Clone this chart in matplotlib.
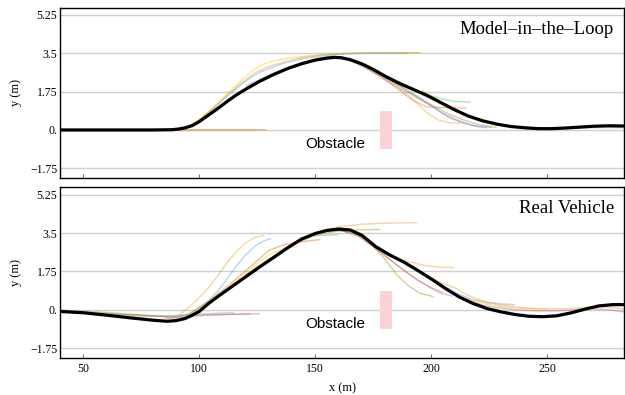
"""
Path tracking: predicted trajectories vs driven path, MiL and real vehicle.
"""
import matplotlib
matplotlib.use("Agg")
import matplotlib.pyplot as plt
from matplotlib.patches import Rectangle

# ---- driven path (black) ----
MIL_X = [40, 80, 88, 91, 94, 97, 100, 104, 108, 112, 116, 120, 126, 132, 138,
         144, 150, 155, 158, 161, 165, 170, 175, 180, 186, 192, 198, 204, 210,
         216, 222, 228, 234, 240, 246, 252, 258, 264, 270, 276, 283]
MIL_Y = [0, 0, 0.01, 0.04, 0.1, 0.2, 0.38, 0.68, 0.98, 1.3, 1.6, 1.86, 2.22,
         2.53, 2.8, 3.02, 3.19, 3.28, 3.31, 3.3, 3.21, 3.02, 2.76, 2.46, 2.14,
         1.86, 1.58, 1.25, 0.92, 0.63, 0.42, 0.27, 0.16, 0.1, 0.06, 0.06, 0.09,
         0.13, 0.17, 0.19, 0.18]

REAL_X = [40, 50, 60, 70, 80, 86, 90, 94, 97, 100, 104, 108, 114, 120, 126,
          132, 138, 144, 150, 155, 160, 165, 170, 176, 182, 188, 194, 200, 206,
          212, 218, 224, 230, 236, 242, 248, 254, 260, 266, 272, 278, 283]
REAL_Y = [-0.08, -0.14, -0.25, -0.37, -0.48, -0.53, -0.5, -0.4, -0.25, -0.08,
          0.28, 0.6, 1.05, 1.5, 1.95, 2.38, 2.82, 3.22, 3.48, 3.62, 3.68, 3.64,
          3.4, 2.88, 2.5, 2.18, 1.8, 1.4, 0.97, 0.58, 0.28, 0.05, -0.1, -0.22,
          -0.3, -0.32, -0.28, -0.15, 0.02, 0.17, 0.23, 0.23]

# ---- predicted trajectories (pale lines): (x, y) ----
MIL_PRED = [
    ([92, 96, 100, 104, 108, 112, 116, 120, 124, 128, 132, 138, 145, 155, 165, 180, 196],
     [0, 0.2, 0.5, 0.85, 1.25, 1.65, 2.05, 2.45, 2.78, 3.02, 3.15, 3.27, 3.36, 3.45, 3.5, 3.52, 3.53]),
    ([96, 100, 104, 108, 112, 116, 120, 124, 128, 136, 144, 152, 160, 170, 185, 195],
     [0.2, 0.45, 0.8, 1.18, 1.58, 1.95, 2.3, 2.6, 2.82, 3.1, 3.3, 3.42, 3.48, 3.52, 3.53, 3.53]),
    ([95, 99, 103, 107, 111, 115, 119, 123, 127, 135, 143, 151, 160, 170, 180, 190],
     [0.1, 0.35, 0.7, 1.05, 1.45, 1.8, 2.15, 2.45, 2.68, 3.0, 3.22, 3.36, 3.45, 3.5, 3.5, 3.5]),
    ([120, 130, 140, 150, 158, 165, 172, 180, 188, 195, 200, 205, 210, 215, 220, 224],
     [2.0, 2.5, 2.92, 3.25, 3.38, 3.2, 2.8, 2.3, 1.8, 1.4, 1.1, 0.75, 0.5, 0.3, 0.15, 0.1]),
    ([160, 165, 170, 175, 180, 186, 192, 196, 200, 205, 210, 217],
     [3.3, 3.2, 3.0, 2.72, 2.4, 2.08, 1.83, 1.7, 1.55, 1.4, 1.3, 1.27]),
    ([160, 165, 172, 178, 186, 192, 198, 205, 215],
     [3.3, 3.15, 2.85, 2.45, 1.83, 1.35, 1.05, 1.02, 1.0]),
    ([160, 165, 170, 178, 185, 192, 198, 203, 208, 213],
     [3.3, 3.2, 3.0, 2.5, 2.0, 1.4, 0.8, 0.45, 0.33, 0.3]),
    ([160, 165, 170, 180, 188, 195, 202, 208, 214, 220, 226],
     [3.3, 3.2, 3.0, 2.4, 1.9, 1.45, 0.95, 0.55, 0.3, 0.17, 0.12]),
    ([160, 168, 175, 185, 192, 200, 207, 214, 220, 228],
     [3.3, 3.08, 2.7, 2.1, 1.65, 1.15, 0.75, 0.45, 0.25, 0.12]),
    ([40, 80, 100, 129], [0, 0, 0.01, 0.01]),
    ([40, 80, 100, 125], [0, 0, 0, 0]),
    ([196, 200, 205, 210, 215, 220, 225, 230, 240, 250, 260, 270, 283],
     [1.8, 1.55, 1.25, 0.95, 0.68, 0.45, 0.32, 0.22, 0.1, 0.07, 0.08, 0.1, 0.1]),
]
MIL_COLORS = ["#FFBF00", "#E19C24", "#5D9EC7", "#8778B3", "#47B66D", "#EB6235",
              "#F89F13", "#6685D9", "#929600", "#C56E1A", "#E19C24", "#E19C24"]

REAL_PRED = [
    ([40, 60, 80, 88, 92, 96, 100, 104, 108, 112, 116, 120, 124, 128],
     [-0.02, -0.12, -0.28, -0.32, -0.2, 0.15, 0.55, 1.0, 1.55, 2.15, 2.65, 3.05, 3.3, 3.4]),
    ([40, 60, 80, 90, 96, 100, 104, 108, 112, 116, 120, 124, 128, 131],
     [-0.05, -0.15, -0.3, -0.35, -0.15, 0.1, 0.4, 0.85, 1.4, 2.0, 2.5, 2.9, 3.15, 3.25]),
    ([40, 60, 80, 90, 95, 100, 108, 115],
     [-0.1, -0.18, -0.27, -0.28, -0.23, -0.2, -0.16, -0.14]),
    ([40, 60, 80, 90, 95, 105, 115, 122],
     [-0.12, -0.2, -0.3, -0.32, -0.26, -0.23, -0.21, -0.2]),
    ([85, 90, 95, 105, 115, 126],
     [-0.4, -0.38, -0.3, -0.25, -0.21, -0.18]),
    ([95, 100, 106, 112, 118, 124, 130, 136, 143],
     [-0.25, 0.05, 0.45, 0.95, 1.5, 2.05, 2.5, 2.78, 2.9]),
    ([96, 100, 106, 112, 118, 124, 130, 136, 144, 152],
     [-0.2, 0.1, 0.55, 1.05, 1.6, 2.15, 2.7, 2.95, 3.1, 3.2]),
    ([120, 130, 140, 150, 160, 170, 180, 194],
     [1.55, 2.3, 3.0, 3.5, 3.78, 3.9, 3.95, 3.97]),
    ([120, 130, 140, 150, 160, 170, 178],
     [1.6, 2.3, 2.95, 3.4, 3.6, 3.65, 3.66]),
    ([145, 150, 155, 160],
     [3.3, 3.38, 3.4, 3.42]),
    ([150, 158, 165, 170, 175, 180, 185, 190, 195, 201],
     [3.5, 3.62, 3.55, 3.35, 2.9, 2.3, 1.6, 1.1, 0.75, 0.59]),
    ([150, 158, 165, 170, 175, 180, 186, 192, 198, 204, 210],
     [3.5, 3.65, 3.6, 3.3, 2.95, 2.55, 2.3, 2.15, 2.0, 1.94, 1.92]),
    ([150, 160, 170, 178, 185, 192, 198, 204, 209],
     [3.5, 3.66, 3.3, 2.65, 2.05, 1.5, 1.1, 0.75, 0.62]),
    ([150, 160, 168, 175, 182, 188, 194, 200, 205],
     [3.5, 3.66, 3.4, 2.85, 2.3, 1.8, 1.35, 1.0, 0.78]),
    ([200, 205, 212, 218, 224, 230, 236],
     [1.45, 1.1, 0.7, 0.45, 0.33, 0.26, 0.23]),
    ([200, 205, 210, 215, 220, 225, 230, 236, 242, 248, 254, 260, 266, 272, 278, 283],
     [1.45, 1.2, 1.0, 0.7, 0.47, 0.32, 0.2, 0.12, 0.06, 0.04, 0.03, 0.05, 0.1, 0.13, 0.1, 0.03]),
    ([210, 216, 222, 228, 236, 244, 252, 260, 268, 276, 283],
     [0.7, 0.42, 0.22, 0.1, 0.0, -0.05, -0.06, -0.02, 0.05, 0.0, -0.1]),
    ([215, 222, 230, 240, 250],
     [0.5, 0.3, 0.15, 0.06, 0.02]),
]
REAL_COLORS = ["#E19C24", "#5D9EC7", "#47B66D", "#EB6235", "#A5609D", "#FFBF00",
               "#C56E1A", "#E19C24", "#929600", "#47B66D", "#929600", "#F89F13",
               "#8778B3", "#EB6235", "#6685D9", "#E19C24", "#BC5B80", "#FFBF00"]

PANEL_TITLES = ["Model\u2013in\u2013the\u2013Loop", "Real Vehicle"]
OBST_X = [178, 183]
OBST_Y = [-0.875, 0.875]
YTICKS = [-1.75, 0, 1.75, 3.5, 5.25]
YTICK_LABELS = ["\u22121.75", "0.", "1.75", "3.5", "5.25"]
XTICKS = [50, 100, 150, 200, 250]

SERIF = "Liberation Serif"

fig = plt.figure(figsize=(6.25, 3.95), dpi=100)
ax_top = fig.add_axes([0.096, 0.549, 0.9025, 0.432])
ax_bot = fig.add_axes([0.096, 0.094, 0.9025, 0.432])

panels = [(ax_top, MIL_X, MIL_Y, MIL_PRED, MIL_COLORS),
          (ax_bot, REAL_X, REAL_Y, REAL_PRED, REAL_COLORS)]
for i, (ax, bx, by, preds, cols) in enumerate(panels):
    for j, (px, py) in enumerate(preds):
        ax.plot(px, py, color=cols[j], lw=1.0, alpha=0.42,
                zorder=2, solid_capstyle="butt")
    ax.plot(bx, by, color="black", lw=2.3, zorder=4,
            solid_joinstyle="round")

    ax.add_patch(Rectangle((OBST_X[0], OBST_Y[0]), OBST_X[1] - OBST_X[0],
                           OBST_Y[1] - OBST_Y[0], facecolor="#fcd2d6",
                           edgecolor="none", zorder=3))
    ax.text(145.5, -0.66, "Obstacle", family="Liberation Sans", fontsize=11,
            ha="left", va="center", zorder=5)
    ax.text(278.7, 4.6, PANEL_TITLES[i], family=SERIF, fontsize=13.5,
            ha="right", va="center", zorder=5)

    ax.set_xlim(40, 283)
    ax.set_ylim(-2.2, 5.59)
    ax.set_yticks(YTICKS)
    ax.set_yticklabels(YTICK_LABELS, family=SERIF, fontsize=8.5)
    ax.set_xticks(XTICKS)
    ax.grid(True, axis="y", color="#cfcfcf", lw=1.0, zorder=0)
    ax.set_axisbelow(True)
    ax.tick_params(axis="y", length=0, pad=2)
    ax.tick_params(axis="x", direction="in", length=3, width=0.6,
                   color="#555555", pad=4)
    for s in ax.spines.values():
        s.set_linewidth(1.0)
    ax.set_ylabel("y (m)", family=SERIF, fontsize=9, labelpad=6)

ax_top.set_xticklabels([])
ax_bot.set_xticklabels([str(t) for t in XTICKS], family=SERIF, fontsize=8.5)
ax_bot.set_xlabel("x (m)", family=SERIF, fontsize=9, labelpad=5)

fig.savefig("out.png", dpi=100, facecolor="white")
plt.close(fig)
